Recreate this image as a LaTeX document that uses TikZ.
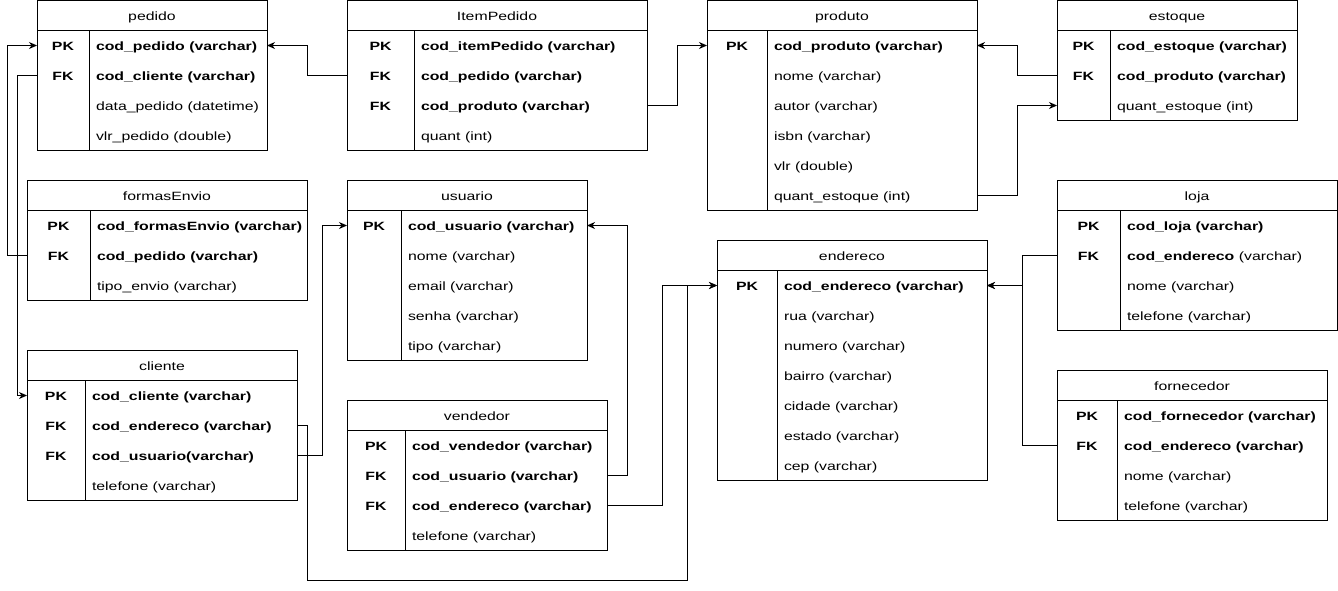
\documentclass[tikz,border=0pt]{standalone}
\usepackage{fontspec}
\setmainfont{Liberation Sans}[FakeStretch=1.32]
\usepackage{tikz}
\usetikzlibrary{arrows.meta, calc}

% one table: name, left, divider, right, top, rows, title, key/field list
\newcommand{\erTable}[8]{%
  \node[tabrow, minimum width={#4-#2}, anchor=north west] (#1-head) at (#2,#5) {};
  \node[headtext] (#1) at ({(#2+#4)/2},{#5+19.5}) {#7};
  \foreach \k/\f [count=\i] in {#8} {
    \node[tabrow, minimum width={#4-#2}, anchor=north west] (#1-\i) at (#2,{#5+30*\i}) {};
    \node[keytext] (#1-k\i) at ({(#2+#3)/2},{#5+30*\i+19.5}) {\k};
    \node[fieldtext] (#1-f\i) at ({#3+7},{#5+30*\i+19.5}) {\f};
  }
  \draw[tabline] (#2,#5) rectangle (#4,{#5+30+30*#6});
  \draw[tabline] (#2,{#5+30}) -- (#4,{#5+30});
  \draw[tabline] (#3,{#5+30}) -- (#3,{#5+30+30*#6});
}

\begin{document}
\begin{tikzpicture}[
  x=1pt, y=-1pt,
  >={Stealth[length=8pt, width=7pt, inset=2.5pt]},
  every node/.style={font=\fontsize{12}{14}\selectfont, inner sep=0pt, outer sep=0pt},
  tabrow/.style={minimum height=30pt},
  headtext/.style={anchor=base},
  keytext/.style={anchor=base, font=\fontsize{12}{14}\selectfont\bfseries},
  fieldtext/.style={anchor=base west},
  tabline/.style={line width=1pt},
  fk/.style={line width=1pt, ->}
]
\useasboundingbox (0,0) rectangle (1338,590);

% Top row
\erTable{pedido}{37}{89}{267}{0.5}{4}{pedido}
  {PK/\textbf{cod\_pedido (varchar)}, FK/\textbf{cod\_cliente (varchar)},
   {}/data\_pedido (datetime), {}/vlr\_pedido (double)}
\erTable{item}{347}{414}{647}{0.5}{4}{ItemPedido}
  {PK/\textbf{cod\_itemPedido (varchar)}, FK/\textbf{cod\_pedido (varchar)},
   FK/\textbf{cod\_produto (varchar)}, {}/quant (int)}
\erTable{produto}{707}{767}{977}{0.5}{6}{produto}
  {PK/\textbf{cod\_produto (varchar)}, {}/nome (varchar), {}/autor (varchar),
   {}/isbn (varchar), {}/vlr (double), {}/quant\_estoque (int)}
\erTable{estoque}{1057}{1110}{1297}{0.5}{3}{estoque}
  {PK/\textbf{cod\_estoque (varchar)}, FK/\textbf{cod\_produto (varchar)},
   {}/quant\_estoque (int)}

% Middle and bottom
\erTable{envio}{27}{90}{307}{180.5}{3}{formasEnvio}
  {PK/\textbf{cod\_formasEnvio (varchar)}, FK/\textbf{cod\_pedido (varchar)},
   {}/tipo\_envio (varchar)}
\erTable{usuario}{347}{401}{587}{180.5}{5}{usuario}
  {PK/\textbf{cod\_usuario (varchar)}, {}/nome (varchar), {}/email (varchar),
   {}/senha (varchar), {}/tipo (varchar)}
\erTable{cliente}{27}{85}{297}{350.5}{4}{cliente}
  {PK/\textbf{cod\_cliente (varchar)}, FK/\textbf{cod\_endereco (varchar)},
   FK/\textbf{cod\_usuario(varchar)}, {}/telefone (varchar)}
\erTable{vendedor}{347}{405}{607}{400.5}{4}{vendedor}
  {PK/\textbf{cod\_vendedor (varchar)}, FK/\textbf{cod\_usuario (varchar)},
   FK/\textbf{cod\_endereco (varchar)}, {}/telefone (varchar)}
\erTable{endereco}{717}{777}{987}{240.5}{7}{endereco}
  {PK/\textbf{cod\_endereco (varchar)}, {}/rua (varchar), {}/numero (varchar),
   {}/bairro (varchar), {}/cidade (varchar), {}/estado (varchar), {}/cep (varchar)}
\erTable{loja}{1057}{1120}{1337}{180.5}{4}{loja}
  {PK/\textbf{cod\_loja (varchar)}, FK/\textbf{cod\_endereco} (varchar),
   {}/nome (varchar), {}/telefone (varchar)}
\erTable{fornecedor}{1057}{1117}{1327}{370.5}{4}{fornecedor}
  {PK/\textbf{cod\_fornecedor (varchar)}, FK/\textbf{cod\_endereco (varchar)},
   {}/nome (varchar), {}/telefone (varchar)}

% Foreign keys
\draw[fk] (item-2.west) -- ++(-40,0) |- (pedido-1.east);
\draw[fk] (item-3.east) -- ++(30,0) |- (produto-1.west);
\draw[fk] (estoque-2.west) -- ++(-40,0) |- (produto-1.east);
\draw[fk] (produto-6.east) -- ++(40,0) |- (estoque-3.west);
\draw[fk] (envio-2.west) -- ++(-20,0) |- (pedido-1.west);
\draw[fk] (pedido-2.west) -- ++(-20,0) |- (cliente-1.west);
\draw[fk] (cliente-3.east) -- ++(25,0) |- (usuario-1.west);
\coordinate (bus) at (687,580.5);
\draw[fk] (cliente-2.east) -- ++(10,0) |- (bus) |- (endereco-1.west);
\draw[fk] (vendedor-2.east) -- ++(20,0) |- (usuario-1.east);
\draw[fk] (vendedor-3.east) -- ++(55,0) |- (endereco-1.west);
\draw[fk] (loja-2.west) -- ++(-35,0) |- (endereco-1.east);
\draw[fk] (fornecedor-2.west) -- ++(-35,0) |- (endereco-1.east);

\end{tikzpicture}
\end{document}
